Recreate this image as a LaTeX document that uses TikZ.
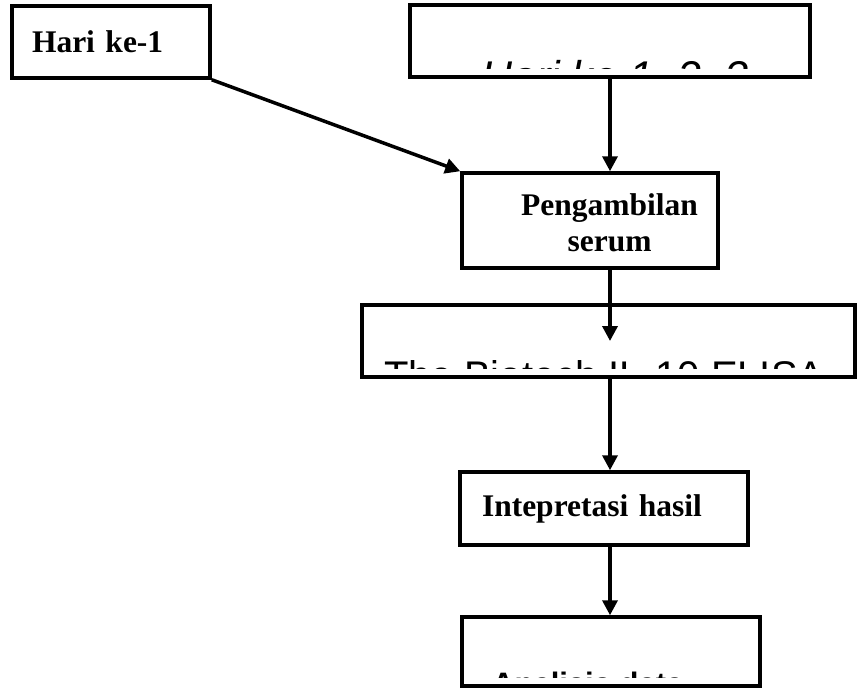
\documentclass[tikz,border=0pt]{standalone}
\usepackage{fontspec}
\setmainfont{Liberation Serif}
\newfontfamily\arialf{Liberation Sans}
\usetikzlibrary{arrows.meta}
\begin{document}
\begin{tikzpicture}[x=1pt,y=-1pt,
  box/.style={draw, line width=3.5pt, inner sep=0pt, rectangle, fill=white},
  ser/.style={font=\fontsize{31.5}{36}\selectfont\bfseries},
  cliptext/.style={anchor=base west, inner sep=0pt},
  arr/.style={line width=3.5pt, -{Triangle[length=15pt,width=15pt]}}]
\useasboundingbox (0,0) rectangle (857,688);

% boxes
\node[box, ser, minimum width=198pt, minimum height=72pt, text width=158pt, inner xsep=20pt, align=left] (hari) at (111,42) {Hari ke-1};
\node[box, minimum width=400pt, minimum height=72pt] (hk) at (610,41) {};
\node[box, ser, minimum width=256pt, minimum height=95pt, text width=216pt, inner xsep=20pt, align=right] (peng) at (590,220.5) {\raisebox{-6pt}[\height][\depth]{\begin{tabular}{@{}c@{}}Pengambilan\\serum\end{tabular}}};
\node[box, minimum width=493pt, minimum height=72pt] (elisa) at (608.5,341) {};
\node[box, ser, minimum width=288pt, minimum height=73pt, text width=244pt, inner xsep=22pt, align=left] (intp) at (604,508.5) {Intepretasi hasil};
\node[box, minimum width=298pt, minimum height=69pt] (anal) at (611,651.5) {};

% clipped texts
\begin{scope}
  \clip (412,7) rectangle (808,68);
  \node[cliptext, font=\arialf\itshape\fontsize{43}{50}\selectfont] (hkt) at (481,91) {Hari ke 1, 2, 3};
\end{scope}
\begin{scope}
  \clip (364,307) rectangle (853,368);
  \node[cliptext, font=\arialf\fontsize{40}{46}\selectfont] (elisat) at (384,389) {The Biotech IL-10 ELISA};
\end{scope}
\begin{scope}
  \clip (464,619) rectangle (758,677);
  \node[cliptext, font=\arialf\bfseries\fontsize{31}{36}\selectfont] (analt) at (492,694) {Analisis data};
\end{scope}

% connectors
\draw[arr] (hari.south east) -- (peng.north west);
\draw[arr] (hk.south) -- (hk.south |- peng.north);
\draw[arr] (hk.south |- peng.south) -- (hk.south |- elisa.center);
\draw[arr] (hk.south |- elisa.south) -- (hk.south |- intp.north);
\draw[arr] (hk.south |- intp.south) -- (hk.south |- anal.north);
\end{tikzpicture}
\end{document}
